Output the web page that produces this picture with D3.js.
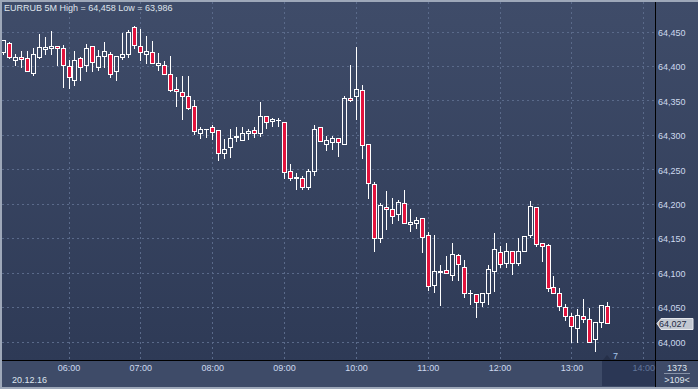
<!DOCTYPE html>
<html>
<head>
<meta charset="utf-8">
<script src="https://cdnjs.cloudflare.com/ajax/libs/d3/7.8.5/d3.min.js"></script>
<style>
  html, body { margin: 0; padding: 0; background: #9ea8b9; }
  svg { display: block; font-family: "Liberation Sans", Arial, sans-serif; }
</style>
</head>
<body>
<div class="chart"></div>
<script>

/** chart data: EURRUB, 5 minute bars of 20.12.16 */
const title = 'EURRUB 5M High = 64,458 Low = 63,986';
const firstBar = '2016-12-20 05:05';
const opens  = [64.420,64.434,64.408,64.413,64.411,64.390,64.413,64.425,64.426,64.429,64.426,
                64.400,64.380,64.411,64.401,64.429,64.399,64.415,64.418,64.392,64.413,64.418,64.456,
                64.429,64.418,64.420,64.402,64.402,64.389,64.366,64.362,64.357,64.342,64.302,64.308,
                64.311,64.307,64.273,64.282,64.297,64.293,64.302,64.307,64.302,64.328,64.320,64.321,
                64.318,64.247,64.238,64.237,64.224,64.247,64.311,64.286,64.289,64.295,64.286,64.354,
                64.357,64.365,64.286,64.228,64.150,64.195,64.193,64.185,64.201,64.170,64.172,64.179,
                64.155,64.082,64.101,64.104,64.097,64.126,64.108,64.070,64.069,64.057,64.071,64.103,
                64.130,64.114,64.131,64.114,64.131,64.154,64.195,64.143,64.140,64.079,64.071,64.050,
                64.037,64.019,64.037,64.032,64.003,64.029,64.051];
const highs  = [64.438,64.435,64.418,64.422,64.422,64.426,64.446,64.442,64.451,64.429,64.430,
                64.409,64.422,64.413,64.432,64.429,64.423,64.435,64.420,64.415,64.448,64.452,64.458,
                64.454,64.443,64.436,64.419,64.407,64.414,64.384,64.385,64.385,64.351,64.311,64.309,
                64.315,64.307,64.294,64.308,64.311,64.311,64.309,64.311,64.348,64.328,64.325,64.325,
                64.318,64.258,64.244,64.240,64.250,64.315,64.312,64.298,64.299,64.295,64.357,64.401,
                64.428,64.372,64.286,64.231,64.201,64.218,64.209,64.205,64.220,64.193,64.180,64.179,
                64.159,64.155,64.111,64.124,64.143,64.127,64.118,64.075,64.069,64.071,64.111,64.158,
                64.138,64.143,64.131,64.150,64.153,64.204,64.195,64.143,64.142,64.095,64.077,64.055,
                64.041,64.047,64.061,64.048,64.029,64.053,64.057];
const lows   = [64.418,64.411,64.401,64.399,64.392,64.387,64.412,64.417,64.418,64.401,64.370,
                64.368,64.373,64.379,64.392,64.392,64.394,64.399,64.384,64.379,64.410,64.413,64.426,
                64.408,64.404,64.404,64.394,64.389,64.363,64.342,64.323,64.337,64.301,64.296,64.297,
                64.294,64.264,64.266,64.268,64.291,64.292,64.294,64.297,64.299,64.310,64.313,64.313,
                64.237,64.234,64.221,64.221,64.221,64.241,64.291,64.278,64.280,64.269,64.286,64.349,
                64.323,64.266,64.208,64.132,64.145,64.163,64.172,64.176,64.172,64.161,64.165,64.130,
                64.075,64.072,64.053,64.100,64.089,64.089,64.064,64.054,64.035,64.052,64.054,64.073,
                64.108,64.108,64.098,64.111,64.131,64.152,64.139,64.117,64.074,64.070,64.045,64.031,
                64.000,64.000,64.028,63.999,63.986,64.021,64.027];
const closes = [64.437,64.413,64.413,64.410,64.392,64.417,64.427,64.427,64.429,64.426,64.402,
                64.384,64.408,64.399,64.426,64.406,64.414,64.421,64.389,64.415,64.418,64.450,64.430,
                64.420,64.421,64.405,64.404,64.389,64.365,64.363,64.356,64.339,64.305,64.308,64.309,
                64.304,64.273,64.279,64.295,64.298,64.302,64.305,64.302,64.328,64.318,64.323,64.322,
                64.246,64.238,64.239,64.224,64.247,64.309,64.291,64.292,64.295,64.289,64.353,64.350,
                64.366,64.285,64.230,64.150,64.198,64.192,64.182,64.202,64.172,64.173,64.177,64.152,
                64.080,64.102,64.102,64.100,64.127,64.112,64.071,64.071,64.058,64.071,64.105,64.134,
                64.113,64.132,64.114,64.132,64.153,64.196,64.141,64.138,64.077,64.070,64.051,64.037,
                64.022,64.038,64.032,64.000,64.029,64.053,64.027];

const priceTicks = [64.000,64.050,64.100,64.150,64.200,64.250,64.300,64.350,64.400,64.450];
const hourTicks  = ['06:00','07:00','08:00','09:00','10:00','11:00','12:00','13:00','14:00'];
const dateLabel  = '20.12.16';
const lastPrice  = 64.027;
const barTimer   = '7';
const sideTop = '1373', sideBottom = '>109<';

/** Set up canvas */
let width = 698, height = 389;
let plotL = 2, plotT = 2, plotR = 655, plotB = 360;

let svg = d3.select('.chart').append('svg')
    .attr('width', width)
    .attr('height', height);

let defs = svg.append('defs');
let grad = defs.append('linearGradient')
    .attr('id', 'bg')
    .attr('x1', 0).attr('y1', 0).attr('x2', 0).attr('y2', 1);
grad.append('stop').attr('offset', '0%').attr('stop-color', '#3f4c69');
grad.append('stop').attr('offset', '100%').attr('stop-color', '#2e3a56');

defs.append('clipPath').attr('id', 'plotClip')
    .append('rect')
    .attr('x', plotL).attr('y', plotT)
    .attr('width', plotR - plotL).attr('height', plotB - plotT);

/** frame + backgrounds */
svg.append('rect').attr('width', width).attr('height', height).attr('fill', '#9ea8b9');
svg.append('rect')
    .attr('x', plotL).attr('y', plotT)
    .attr('width', width - plotL).attr('height', plotB - plotT)
    .attr('fill', 'url(#bg)');
svg.append('rect')
    .attr('x', plotL).attr('y', plotB)
    .attr('width', width - plotL).attr('height', 387 - plotB)
    .attr('fill', '#3e4b68');

/** scales */
const parseT = d3.timeParse('%Y-%m-%d %H:%M');
const day = '2016-12-20 ';
let t0 = parseT(firstBar);
let x = d3.scaleTime()
    .domain([parseT(day + hourTicks[0]), parseT(day + hourTicks[hourTicks.length - 1])])
    .range([68.5, 643.3]);
let y = d3.scaleLinear()
    .domain([priceTicks[0], priceTicks[priceTicks.length - 1]])
    .range([341.5, 31.5]);

const ru = d3.formatLocale({decimal: ',', thousands: '.', grouping: [3], currency: ['', '']});
const fmtPrice = ru.format('.3f');

/** future zone on the time axis */
let lastT = d3.timeMinute.offset(t0, 5 * (opens.length - 1));
svg.append('rect')
    .attr('x', Math.round(x(lastT)) - 5)
    .attr('y', plotB + 1)
    .attr('width', plotR - Math.round(x(lastT)) + 5)
    .attr('height', 386 - plotB - 1)
    .attr('fill', '#2b3755');

/** grid */
let grid = svg.append('g').attr('clip-path', 'url(#plotClip)');
grid.selectAll('.hgrid')
    .data(priceTicks)
    .enter()
    .append('line')
    .attr('class', 'hgrid')
    .attr('x1', plotL).attr('x2', plotR)
    .attr('y1', d => Math.round(y(d)) + 0.5)
    .attr('y2', d => Math.round(y(d)) + 0.5)
    .style('stroke', '#5a6a8a')
    .style('stroke-dasharray', '2,3');
grid.selectAll('.vgrid')
    .data(hourTicks)
    .enter()
    .append('line')
    .attr('class', 'vgrid')
    .attr('x1', d => Math.round(x(parseT(day + d))) + 0.5)
    .attr('x2', d => Math.round(x(parseT(day + d))) + 0.5)
    .attr('y1', plotT).attr('y2', plotB)
    .style('stroke', '#5a6a8a')
    .style('stroke-dasharray', '2,3');

/** candles */
let bars = opens.map((o, i) => ({
    t: d3.timeMinute.offset(t0, 5 * i), o: o, h: highs[i], l: lows[i], c: closes[i]
}));

let plot = svg.append('g').attr('clip-path', 'url(#plotClip)');
plot.selectAll('.bar')
    .data(bars)
    .enter()
    .append('g')
    .attr('class', 'bar')
    .each(function (d) {
        let g = d3.select(this);
        let cx = Math.round(x(d.t)) + 0.5;
        let yTop = Math.round(y(Math.max(d.o, d.c))) + 0.5;
        let yBot = Math.round(y(Math.min(d.o, d.c))) + 0.5;
        let yH = Math.round(y(d.h)), yL = Math.round(y(d.l)) + 1;
        let down = d.c < d.o;

        if (yH < yTop) g.append('line').attr('x1', cx).attr('x2', cx).attr('y1', yH).attr('y2', yTop);
        if (yL > yBot) g.append('line').attr('x1', cx).attr('x2', cx).attr('y1', yBot).attr('y2', yL);
        g.selectAll('line').style('stroke', '#ffffff');

        if (yBot - yTop < 1) {
            g.append('line')
                .attr('x1', cx - 2.5).attr('x2', cx + 2.5)
                .attr('y1', yTop).attr('y2', yTop)
                .style('stroke', '#ffffff');
        } else {
            g.append('rect')
                .attr('x', cx - 2).attr('y', yTop)
                .attr('width', 4).attr('height', yBot - yTop)
                .attr('fill', down ? '#e2133d' : 'none')
                .style('stroke', '#ffffff');
        }
    });

/** borders */
svg.append('line')
    .attr('x1', plotR + 0.5).attr('x2', plotR + 0.5)
    .attr('y1', plotT).attr('y2', 387)
    .style('stroke', '#000');
svg.append('line')
    .attr('x1', plotL).attr('x2', width)
    .attr('y1', plotB + 0.5).attr('y2', plotB + 0.5)
    .style('stroke', '#000');

/** price axis */
let yAxis = svg.append('g')
    .attr('transform', `translate(${plotR}, 0)`)
    .call(d3.axisRight(y).tickValues(priceTicks).tickSize(0).tickPadding(3).tickFormat(fmtPrice));
yAxis.select('.domain').remove();
yAxis.selectAll('text')
    .attr('dy', '0.42em')
    .style('font-family', '"Liberation Sans", Arial, sans-serif')
    .style('font-size', '9px')
    .style('fill', '#cdd9ee');

/** time axis */
let xAxis = svg.append('g')
    .attr('transform', `translate(0, ${plotB})`)
    .call(d3.axisBottom(x)
        .tickValues(hourTicks.map(h => parseT(day + h)))
        .tickSize(0).tickPadding(5)
        .tickFormat(d3.timeFormat('%H:%M')));
xAxis.select('.domain').remove();
xAxis.selectAll('text')
    .style('font-family', '"Liberation Sans", Arial, sans-serif')
    .style('font-size', '9px')
    .style('fill', (d) => d > lastT ? '#62769a' : '#cdd9ee');

svg.append('text')
    .attr('x', 12).attr('y', 382.5)
    .style('font-size', '9px')
    .style('fill', '#dde4ee')
    .text(dateLabel);

/** title */
svg.append('text')
    .attr('x', 4).attr('y', 11)
    .style('font-size', '9px')
    .style('fill', '#dfe4ec')
    .text(title);

/** last price tag */
let yp = Math.round(y(lastPrice)) + 0.5;
svg.append('path')
    .attr('d', `M${plotR + 2},${yp} L${plotR + 6},${yp - 5} H${693} V${yp + 6} H${plotR + 6} Z`)
    .attr('fill', '#c3c8d1')
    .style('stroke', '#e4e7ec');
svg.append('text')
    .attr('x', 659).attr('y', yp + 3.5)
    .style('font-size', '9px')
    .style('fill', '#1f2b44')
    .text(fmtPrice(lastPrice));

/** bar timer */
let tx = Math.round(x(lastT));
svg.append('path')
    .attr('d', `M${tx - 4},${plotB} L${tx},${plotB - 5} L${tx + 4},${plotB} Z`)
    .attr('fill', '#263049');
svg.append('text')
    .attr('x', tx + 6).attr('y', plotB - 1)
    .style('font-size', '9px')
    .style('fill', '#a9c8ee')
    .text(barTimer);

/** bottom-right box */
svg.append('text')
    .attr('x', 677).attr('y', 371)
    .attr('text-anchor', 'middle')
    .style('font-size', '9px')
    .style('fill', '#dfe4ec')
    .text(sideTop);
svg.append('line')
    .attr('x1', 664).attr('x2', 690)
    .attr('y1', 373.5).attr('y2', 373.5)
    .style('stroke', '#8793a8');
svg.append('text')
    .attr('x', 677).attr('y', 383)
    .attr('text-anchor', 'middle')
    .style('font-size', '9px')
    .style('fill', '#dfe4ec')
    .text(sideBottom);

</script>
</body>
</html>
